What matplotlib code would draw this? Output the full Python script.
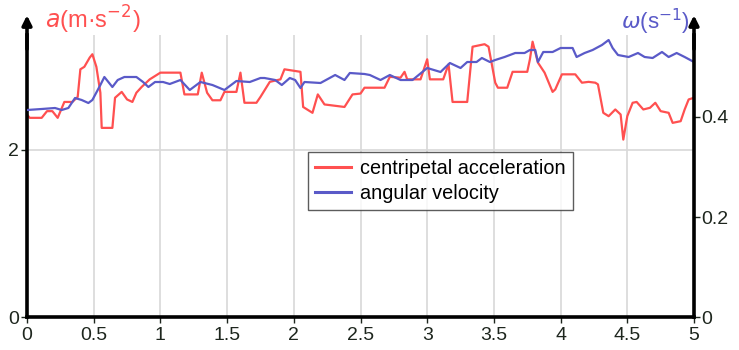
import matplotlib
matplotlib.use("Agg")
import matplotlib.pyplot as plt

plt.rcParams['font.family'] = ['Liberation Sans', 'DejaVu Sans']

# centripetal acceleration a (m/s^2) vs time (s)
t_acc = [0.00, 0.02, 0.11, 0.15, 0.19, 0.23, 0.28, 0.34, 0.38, 0.40, 0.43, 0.47, 0.49, 0.52, 0.55, 0.56,
         0.64, 0.66, 0.71, 0.75, 0.79, 0.82, 0.86, 0.92, 1.00, 1.15, 1.18, 1.28, 1.31, 1.35, 1.39, 1.45,
         1.48, 1.57, 1.60, 1.63, 1.72, 1.75, 1.82, 1.90, 1.93, 2.05, 2.07, 2.14, 2.18, 2.23, 2.38, 2.44,
         2.50, 2.53, 2.68, 2.72, 2.80, 2.83, 2.85, 2.95, 3.00, 3.02, 3.12, 3.16, 3.19, 3.30, 3.34, 3.43,
         3.46, 3.51, 3.53, 3.60, 3.64, 3.75, 3.77, 3.79, 3.83, 3.88, 3.94, 3.96, 4.01, 4.11, 4.16, 4.21,
         4.26, 4.28, 4.32, 4.36, 4.41, 4.45, 4.47, 4.50, 4.54, 4.57, 4.62, 4.67, 4.71, 4.75, 4.81, 4.84,
         4.90, 4.93, 4.96, 5.00]
acc = [2.42, 2.38, 2.38, 2.46, 2.46, 2.38, 2.57, 2.57, 2.63, 2.96, 2.99, 3.10, 3.14, 2.99, 2.68, 2.26,
       2.26, 2.62, 2.69, 2.60, 2.57, 2.68, 2.75, 2.84, 2.92, 2.92, 2.66, 2.66, 2.92, 2.68, 2.59, 2.59,
       2.69, 2.69, 2.92, 2.56, 2.56, 2.63, 2.81, 2.84, 2.96, 2.93, 2.51, 2.44, 2.66, 2.54, 2.51, 2.66,
       2.67, 2.74, 2.74, 2.87, 2.86, 2.93, 2.84, 2.84, 3.08, 2.84, 2.84, 3.02, 2.57, 2.57, 3.23, 3.26,
       3.23, 2.80, 2.74, 2.74, 2.93, 2.93, 3.08, 3.29, 3.04, 2.92, 2.69, 2.72, 2.90, 2.90, 2.80, 2.81,
       2.80, 2.78, 2.44, 2.40, 2.48, 2.42, 2.12, 2.40, 2.56, 2.57, 2.48, 2.50, 2.56, 2.46, 2.44, 2.32,
       2.34, 2.48, 2.60, 2.62]

# angular velocity omega (1/s) vs time (s)
t_omega = [0.00, 0.11, 0.21, 0.26, 0.31, 0.36, 0.41, 0.46, 0.49, 0.55, 0.58, 0.64, 0.68, 0.73, 0.82, 0.87,
           0.91, 0.96, 1.02, 1.07, 1.15, 1.22, 1.30, 1.39, 1.48, 1.57, 1.67, 1.75, 1.78, 1.86, 1.91, 1.97,
           2.01, 2.05, 2.08, 2.20, 2.31, 2.38, 2.42, 2.53, 2.57, 2.65, 2.72, 2.80, 2.89, 3.00, 3.10, 3.17,
           3.25, 3.30, 3.37, 3.41, 3.47, 3.51, 3.58, 3.66, 3.73, 3.77, 3.81, 3.83, 3.87, 3.94, 4.00, 4.09,
           4.12, 4.18, 4.24, 4.31, 4.36, 4.39, 4.43, 4.51, 4.58, 4.63, 4.69, 4.76, 4.81, 4.87, 4.93, 5.00]
omega = [0.414, 0.416, 0.418, 0.414, 0.418, 0.438, 0.434, 0.428, 0.434, 0.464, 0.480, 0.460, 0.474, 0.480,
         0.480, 0.470, 0.460, 0.470, 0.470, 0.466, 0.474, 0.454, 0.470, 0.464, 0.454, 0.472, 0.470, 0.478,
         0.478, 0.474, 0.464, 0.478, 0.474, 0.458, 0.470, 0.468, 0.484, 0.474, 0.488, 0.486, 0.484, 0.474,
         0.484, 0.474, 0.474, 0.498, 0.490, 0.508, 0.498, 0.510, 0.510, 0.518, 0.510, 0.514, 0.520, 0.528,
         0.528, 0.534, 0.534, 0.510, 0.530, 0.530, 0.538, 0.538, 0.520, 0.528, 0.534, 0.544, 0.554, 0.538,
         0.524, 0.520, 0.528, 0.520, 0.518, 0.530, 0.520, 0.528, 0.520, 0.510]

x_ticks = [0, 0.5, 1, 1.5, 2, 2.5, 3, 3.5, 4, 4.5, 5]
x_labels = ['0', '0.5', '1', '1.5', '2', '2.5', '3', '3.5', '4', '4.5', '5']
acc_ticks = [0, 2]
omega_ticks = [0, 0.2, 0.4]

RED = '#ff5050'
BLUE = '#5a5ac8'
TICKC = '#1e261e'

fig = plt.figure(figsize=(7.39, 3.5), dpi=100)
ax = fig.add_axes([27/739, 33/350, 667/739, 282/350])
ax2 = ax.twinx()

ax.set_xlim(0, 5)
ax.set_ylim(0, 3.37)
ax2.set_ylim(0, 0.564)

ax.set_xticks(x_ticks)
ax.set_xticklabels(x_labels)
ax.set_yticks(acc_ticks)
ax2.set_yticks(omega_ticks)
ax2.set_yticklabels(['0', '0.2', '0.4'])

ax.grid(True, color='#d8d8d8', lw=1.2)
ax.set_axisbelow(True)

l1, = ax.plot(t_acc, acc, color=RED, lw=1.6, label='centripetal acceleration')
l2, = ax2.plot(t_omega, omega, color=BLUE, lw=1.6, label='angular velocity')

for a in (ax, ax2):
    a.spines['top'].set_visible(False)
    for s in ('left', 'right', 'bottom'):
        a.spines[s].set_linewidth(2.6)
        a.spines[s].set_color('black')
    a.tick_params(labelsize=14, colors=TICKC, length=4, width=1, pad=1.5)
ax.tick_params(axis='x', pad=3.5)
ax.spines['right'].set_visible(False)
ax2.spines['left'].set_visible(False)
ax2.spines['bottom'].set_visible(False)

# arrows on the vertical axes
for xf in (0, 1):
    ax.annotate('', xy=(xf, 1.07), xycoords='axes fraction', xytext=(xf, 0.95),
                textcoords='axes fraction',
                arrowprops=dict(arrowstyle='-|>', lw=2.6, color='black', mutation_scale=14,
                                shrinkA=0, shrinkB=0))

fig.text(45/739, 1 - 20/350, '$a$(m·s$^{-2}$)', color=RED, fontsize=17, ha='left', va='center')
fig.text(690/739, 1 - 22/350, r'$\omega$(s$^{-1}$)', color=BLUE, fontsize=16, ha='right', va='center')

leg = ax.legend(handles=[l1, l2], loc='upper left', bbox_to_anchor=(0.421, 0.585),
                borderaxespad=0, fontsize=14.3, frameon=True, fancybox=False, shadow=False,
                borderpad=0.35, labelspacing=0.3, handlelength=1.8, handletextpad=0.5)
for h in leg.get_lines():
    h.set_linewidth(2.2)
leg.get_frame().set_edgecolor('#333333')
leg.get_frame().set_linewidth(1.0)
leg.set_zorder(10)

fig.savefig('out.png', dpi=100)
